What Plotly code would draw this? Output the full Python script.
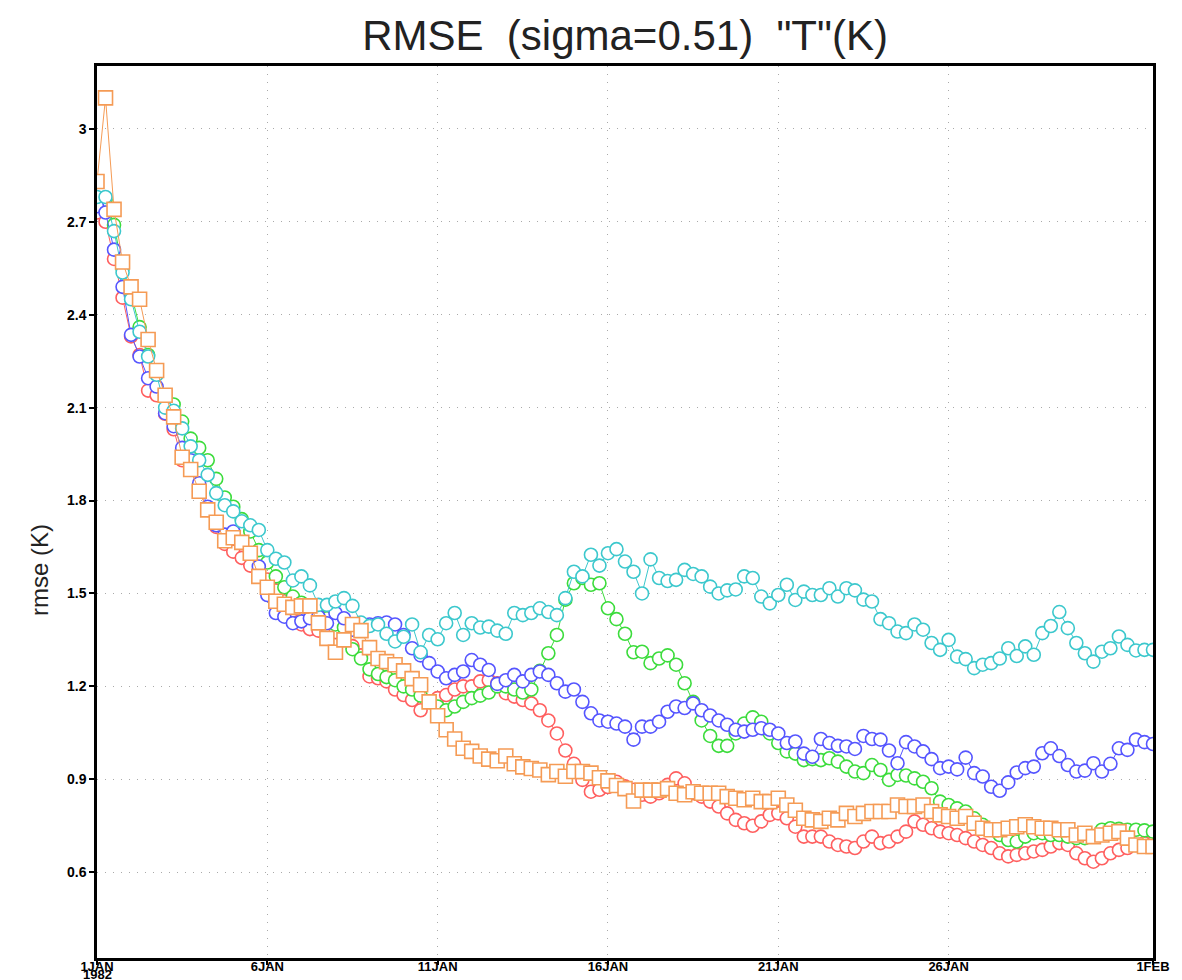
import plotly.graph_objects as go
import pandas as pd

# 6-hourly times, 1 JAN 1982 00Z to 1 FEB 1982 00Z
times = pd.date_range("1982-01-01 00:00", "1982-02-01 00:00", freq="6h")

red = [2.73, 2.70, 2.58, 2.455, 2.33, 2.27, 2.155, 2.14, 2.08, 2.03,
       1.93, 1.90, 1.83, 1.77, 1.715, 1.66, 1.635, 1.615, 1.59, 1.565,
       1.545, 1.51, 1.475, 1.445, 1.40, 1.385, 1.38, 1.39, 1.375, 1.35,
       1.33, 1.30, 1.232, 1.226, 1.216, 1.19, 1.172, 1.156, 1.123, 1.15,
       1.162, 1.172, 1.19, 1.20, 1.20, 1.216, 1.22, 1.21, 1.178, 1.167,
       1.156, 1.145, 1.123, 1.09, 1.048, 0.993, 0.95, 0.898, 0.86, 0.866,
       0.875, 0.892, 0.877, 0.866, 0.85, 0.844, 0.855, 0.882, 0.903, 0.887,
       0.855, 0.844, 0.828, 0.812, 0.79, 0.769, 0.758, 0.75, 0.764, 0.785,
       0.79, 0.774, 0.747, 0.715, 0.715, 0.715, 0.699, 0.688, 0.683, 0.678,
       0.699, 0.715, 0.694, 0.699, 0.715, 0.731, 0.764, 0.753, 0.742, 0.731,
       0.726, 0.72, 0.71, 0.699, 0.688, 0.678, 0.661, 0.651, 0.656, 0.661,
       0.667, 0.672, 0.683, 0.694, 0.688, 0.661, 0.645, 0.634, 0.645, 0.661,
       0.672, 0.678, 0.688, 0.694, 0.694]

blue = [2.75, 2.73, 2.61, 2.49, 2.335, 2.265, 2.195, 2.168, 2.082, 2.04,
        1.97, 1.93, 1.856, 1.78, 1.72, 1.69, 1.70, 1.665, 1.63, 1.587,
        1.495, 1.437, 1.425, 1.404, 1.41, 1.42, 1.425, 1.404, 1.437, 1.42,
        1.383, 1.39, 1.40, 1.404, 1.406, 1.40, 1.366, 1.323, 1.30, 1.275,
        1.248, 1.226, 1.237, 1.248, 1.285, 1.27, 1.253, 1.208, 1.22, 1.237,
        1.216, 1.237, 1.248, 1.237, 1.21, 1.183, 1.19, 1.15, 1.113, 1.09,
        1.086, 1.08, 1.07, 1.028, 1.07, 1.07, 1.086, 1.118, 1.135, 1.13,
        1.145, 1.123, 1.106, 1.09, 1.076, 1.06, 1.054, 1.06, 1.065, 1.06,
        1.048, 1.017, 1.022, 0.983, 0.973, 1.03, 1.017, 1.008, 1.006, 0.998,
        1.04, 1.03, 1.028, 0.993, 0.952, 1.02, 1.006, 0.99, 0.965, 0.936,
        0.941, 0.932, 0.97, 0.92, 0.909, 0.876, 0.863, 0.89, 0.922, 0.936,
        0.941, 0.984, 1.0, 0.975, 0.946, 0.925, 0.928, 0.952, 0.925, 0.95,
        1.0, 0.995, 1.028, 1.02, 1.014]

green = [2.76, 2.77, 2.69, 2.55, 2.47, 2.36, 2.27, 2.21, 2.14, 2.11,
         2.055, 2.0, 1.97, 1.93, 1.87, 1.81, 1.78, 1.74, 1.70, 1.64,
         1.60, 1.555, 1.52, 1.49, 1.47, 1.45, 1.43, 1.42, 1.40, 1.39,
         1.32, 1.29, 1.255, 1.24, 1.23, 1.22, 1.20, 1.19, 1.17, 1.15,
         1.135, 1.123, 1.135, 1.15, 1.162, 1.17, 1.18, 1.20, 1.20, 1.19,
         1.18, 1.19, 1.25, 1.307, 1.366, 1.48, 1.533, 1.55, 1.528, 1.533,
         1.452, 1.417, 1.37, 1.31, 1.312, 1.275, 1.29, 1.30, 1.27, 1.21,
         1.15, 1.09, 1.04, 1.008, 1.008, 1.048, 1.08, 1.10, 1.086, 1.048,
         1.017, 0.99, 0.983, 0.962, 0.965, 0.962, 0.968, 0.957, 0.941, 0.925,
         0.92, 0.946, 0.93, 0.898, 0.914, 0.912, 0.903, 0.892, 0.871, 0.828,
         0.817, 0.806, 0.796, 0.774, 0.753, 0.737, 0.72, 0.704, 0.699, 0.715,
         0.726, 0.726, 0.72, 0.72, 0.715, 0.71, 0.71, 0.715, 0.737, 0.742,
         0.74, 0.737, 0.737, 0.735, 0.731]

cyan = [2.78, 2.78, 2.67, 2.536, 2.45, 2.345, 2.265, 2.206, 2.10, 2.09,
        2.033, 1.975, 1.93, 1.883, 1.824, 1.785, 1.765, 1.733, 1.72, 1.705,
        1.64, 1.612, 1.60, 1.542, 1.555, 1.526, 1.463, 1.463, 1.474, 1.485,
        1.46, 1.406, 1.395, 1.40, 1.37, 1.345, 1.36, 1.40, 1.31, 1.366,
        1.352, 1.404, 1.437, 1.366, 1.404, 1.39, 1.393, 1.38, 1.37, 1.437,
        1.43, 1.437, 1.452, 1.44, 1.43, 1.485, 1.57, 1.555, 1.625, 1.59,
        1.63, 1.643, 1.603, 1.57, 1.50, 1.61, 1.55, 1.54, 1.544, 1.576,
        1.563, 1.555, 1.522, 1.50, 1.51, 1.513, 1.555, 1.55, 1.49, 1.468,
        1.495, 1.528, 1.479, 1.506, 1.495, 1.495, 1.517, 1.49, 1.517, 1.51,
        1.48, 1.474, 1.417, 1.404, 1.377, 1.372, 1.40, 1.383, 1.34, 1.318,
        1.35, 1.296, 1.288, 1.259, 1.27, 1.275, 1.29, 1.323, 1.298, 1.329,
        1.302, 1.372, 1.395, 1.44, 1.388, 1.34, 1.307, 1.28, 1.312, 1.323,
        1.361, 1.334, 1.316, 1.318, 1.318]

orange = [2.83, 3.10, 2.74, 2.57, 2.49, 2.45, 2.32, 2.22, 2.14, 2.07,
          1.94, 1.90, 1.83, 1.77, 1.73, 1.67, 1.68, 1.665, 1.63, 1.555,
          1.52, 1.475, 1.465, 1.455, 1.46, 1.46, 1.405, 1.355, 1.31, 1.35,
          1.40, 1.38, 1.325, 1.29, 1.28, 1.27, 1.25, 1.225, 1.205, 1.15,
          1.105, 1.06, 1.03, 1.00, 0.99, 0.975, 0.965, 0.96, 0.975, 0.95,
          0.94, 0.935, 0.93, 0.915, 0.925, 0.91, 0.925, 0.925, 0.92, 0.905,
          0.895, 0.88, 0.87, 0.83, 0.865, 0.865, 0.865, 0.87, 0.855, 0.85,
          0.86, 0.855, 0.855, 0.855, 0.844, 0.839, 0.834, 0.839, 0.828, 0.828,
          0.839, 0.817, 0.80, 0.774, 0.769, 0.764, 0.774, 0.769, 0.79, 0.78,
          0.79, 0.796, 0.796, 0.796, 0.817, 0.812, 0.812, 0.817, 0.796, 0.785,
          0.78, 0.774, 0.78, 0.758, 0.742, 0.737, 0.737, 0.742, 0.747, 0.753,
          0.747, 0.742, 0.742, 0.737, 0.737, 0.72, 0.726, 0.715, 0.72, 0.726,
          0.731, 0.71, 0.688, 0.683, 0.683]

tick_dates = ["1982-01-01", "1982-01-06", "1982-01-11", "1982-01-16",
              "1982-01-21", "1982-01-26", "1982-02-01"]
tick_text = ["1JAN", "6JAN", "11JAN", "16JAN", "21JAN", "26JAN", "1FEB"]
year_label = "1982"
y_ticks = [0.6, 0.9, 1.2, 1.5, 1.8, 2.1, 2.4, 2.7, 3.0]
y_text = ["0.6", "0.9", "1.2", "1.5", "1.8", "2.1", "2.4", "2.7", "3"]

series = [
    (red, "rgb(255,95,95)", "circle"),
    (green, "rgb(60,220,60)", "circle"),
    (blue, "rgb(85,85,255)", "circle"),
    (cyan, "rgb(60,200,205)", "circle"),
    (orange, "rgb(245,155,85)", "square"),
]

fig = go.Figure()
for vals, col, sym in series:
    is_sq = sym == "square"
    fig.add_trace(go.Scatter(
        x=times, y=vals, mode="lines+markers",
        line=dict(color=col, width=1),
        marker=dict(symbol=sym, size=14 if is_sq else 13,
                    color="white", line=dict(color=col, width=1.6)),
        showlegend=False, hoverinfo="skip",
    ))

tick_font = dict(family="Liberation Sans Narrow, Liberation Sans, Arial", size=14,
                 color="black", weight="bold")
xtick_font = dict(family="Liberation Sans Narrow, Liberation Sans, Arial", size=13,
                  color="black", weight="bold")

fig.update_layout(
    width=1182, height=980,
    margin=dict(l=97, r=29, t=66, b=22, autoexpand=False),
    paper_bgcolor="white", plot_bgcolor="white",
    title=dict(text='RMSE  (sigma=0.51)  "T"(K)', x=0.5288, xanchor="center",
               y=0.964, yanchor="middle",
               font=dict(family="Liberation Sans, Arial", size=42, color="#222222")),
    xaxis=dict(range=[times[0], times[-1]], tickvals=tick_dates, ticktext=tick_text,
               showline=True, linewidth=2.5, linecolor="black", mirror=True,
               ticks="outside", ticklen=4, tickwidth=2, tickcolor="black",
               showgrid=True, gridcolor="#aaaaaa", griddash="1px,7px", gridwidth=1,
               tickfont=xtick_font, zeroline=False, automargin=False,
               ticklabelstandoff=-9),
    yaxis=dict(range=[0.323, 3.203], tickvals=y_ticks, ticktext=y_text,
               showline=True, linewidth=2.5, linecolor="black", mirror=True,
               ticks="outside", ticklen=5, tickwidth=2, tickcolor="black",
               showgrid=True, gridcolor="#aaaaaa", griddash="1px,7px", gridwidth=1,
               tickfont=tick_font, zeroline=False, automargin=False),
    annotations=[
        dict(text="rmse (K)", xref="paper", yref="paper",
             x=-0.054, y=0.435, textangle=-90, showarrow=False,
             xanchor="center", yanchor="middle",
             font=dict(family="Liberation Sans, Arial", size=24, color="#222222")),
        dict(text=year_label, xref="x", yref="paper", x=tick_dates[0], y=-0.0187,
             showarrow=False, xanchor="center", yanchor="middle",
             font=xtick_font),
    ],
)

fig.write_html("out.html", config={"displayModeBar": False},
               post_script="document.body.style.margin='0';document.body.style.overflow='hidden';")
